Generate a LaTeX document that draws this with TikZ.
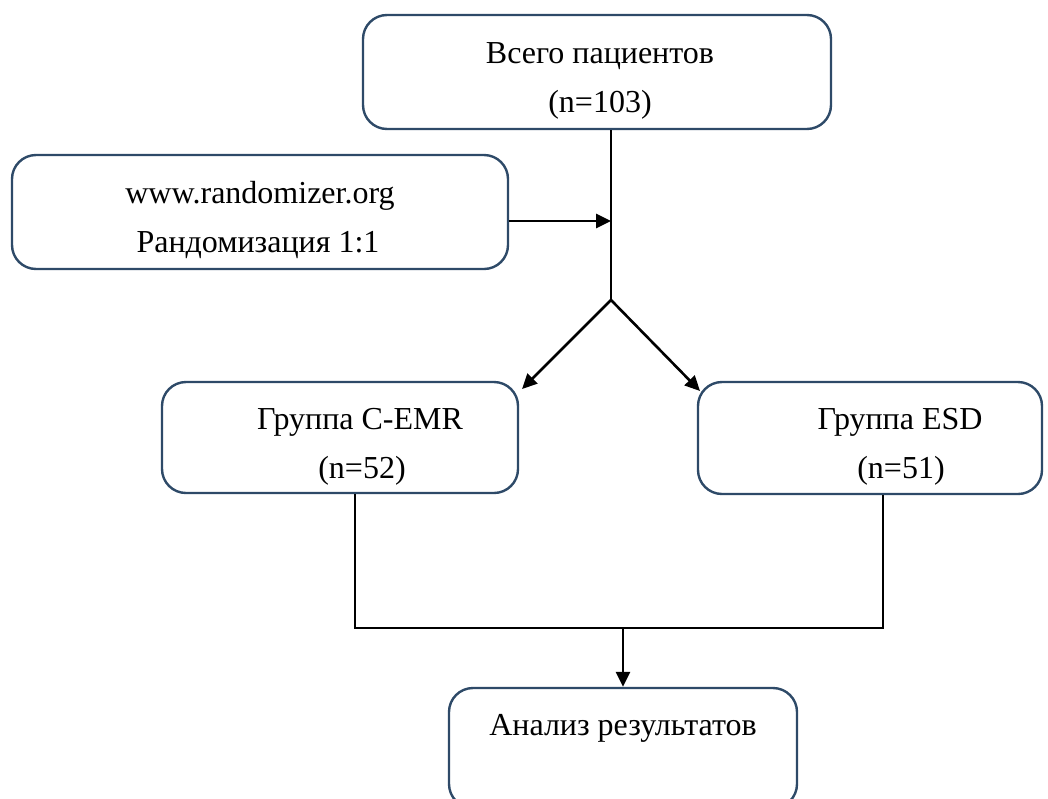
\documentclass[tikz,border=0pt]{standalone}
\usepackage{fontspec}
\setmainfont{Liberation Serif}
\usetikzlibrary{arrows.meta}
\definecolor{boxline}{HTML}{2E4A68}
\begin{document}
\begin{tikzpicture}[x=1pt,y=-1pt,
  box/.style={draw=boxline,line width=2.4pt,rounded corners=24pt,inner sep=0pt},
  txt/.style={anchor=base,inner sep=0pt,font=\fontsize{32}{40}\selectfont},
  conn/.style={line width=2.6pt,black},
  arr/.style={conn,-{Triangle[length=15pt,width=14pt]}}]
\useasboundingbox (0,0) rectangle (1048,798);
\begin{scope}
\clip (0,0) rectangle (1048,798);
% boxes
\node[box,minimum width=468pt,minimum height=114pt] (top) at (597,72) {};
\node[box,minimum width=496pt,minimum height=114pt] (rand) at (260,212) {};
\node[box,minimum width=356pt,minimum height=111pt] (cemr) at (340,437.5) {};
\node[box,minimum width=344pt,minimum height=112pt] (esd) at (870,438) {};
\node[box,minimum width=348pt,minimum height=120pt] (res) at (623,748) {};
% texts
\node[txt] (t1) at (600,63) {Всего пациентов};
\node[txt] (t2) at (600,112) {(n=103)};
\node[txt] (r1) at (260,203) {www.randomizer.org};
\node[txt] (r2) at (258,252) {Рандомизация 1:1};
\node[txt] (c1) at (360,429) {Группа C-EMR};
\node[txt] (c2) at (362,478) {(n=52)};
\node[txt] (e1) at (900,429) {Группа ESD};
\node[txt] (e2) at (901,478) {(n=51)};
\node[txt] (a1) at (623,735) {Анализ результатов};
\end{scope}
% connectors
\coordinate (split) at (611,300);
\coordinate (mid) at (611,221);
\coordinate (cl) at (355,628);
\coordinate (cr) at (883,628);
\coordinate (cm) at (623,628);
\draw[conn] (top.south -| split) -- (split);
\draw[arr] (rand.east |- mid) -- (mid);
\draw[arr] (split) -- (522,389);
\draw[arr] (split) -- (700,391);
\draw[conn] (cemr.south -| cl) -- (cl) -- (cr) -- (esd.south -| cr);
\draw[arr] (cm) -- (res.north -| cm);
\end{tikzpicture}
\end{document}
